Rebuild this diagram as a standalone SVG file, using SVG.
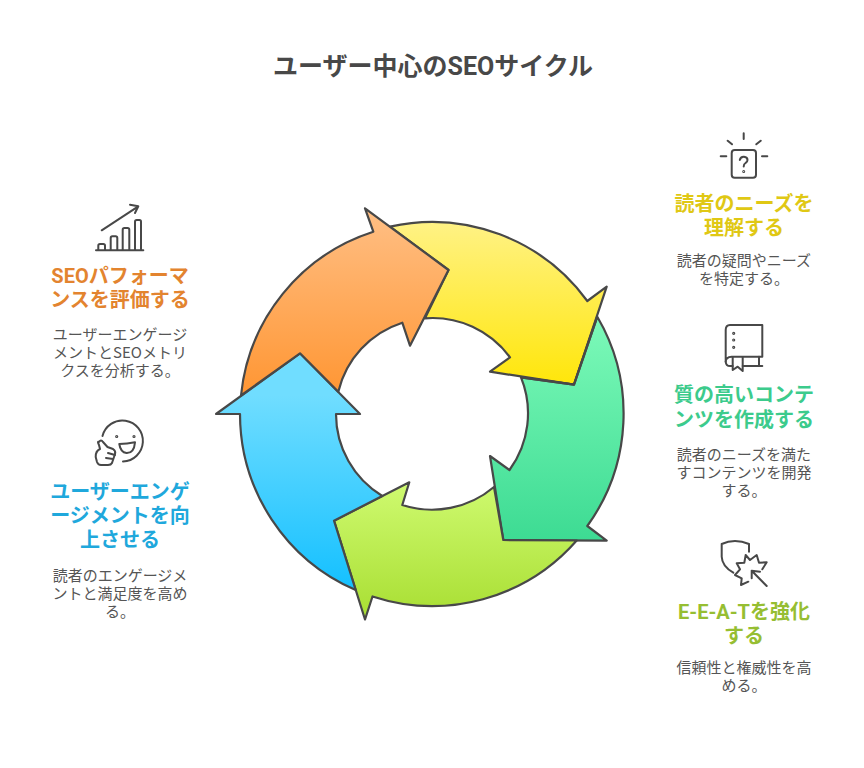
<svg xmlns="http://www.w3.org/2000/svg" width="864" height="768" viewBox="0 0 864 768">
<style>
text{font-family:"Roboto","Noto Sans CJK JP",sans-serif;text-anchor:middle}
.t{font-size:25px;font-weight:700;fill:#484848}
.h{font-size:20px;font-weight:700}
.d{font-size:15px;fill:#555;font-family:"Noto Sans CJK JP",sans-serif}
.a{stroke:#484848;stroke-width:2.2;stroke-linejoin:round}
.i{fill:none;stroke:#484848;stroke-width:2;stroke-linecap:round;stroke-linejoin:round}
</style>
<defs>
<linearGradient id="go" x1="0" y1="0" x2="0" y2="1"><stop offset="0" stop-color="#FFBF85"/><stop offset="1" stop-color="#FF9633"/></linearGradient>
<linearGradient id="gy" x1="0" y1="0" x2="0" y2="1"><stop offset="0" stop-color="#FFF285"/><stop offset="1" stop-color="#FFE60A"/></linearGradient>
<linearGradient id="gt" x1="0" y1="0" x2="0" y2="1"><stop offset="0" stop-color="#7DFAB9"/><stop offset="1" stop-color="#3DDB93"/></linearGradient>
<linearGradient id="gl" x1="0" y1="0" x2="0" y2="1"><stop offset="0" stop-color="#CFFA70"/><stop offset="1" stop-color="#A8DE32"/></linearGradient>
<linearGradient id="gb" gradientUnits="userSpaceOnUse" x1="0" y1="395" x2="0" y2="590"><stop offset="0" stop-color="#70DDFF"/><stop offset="1" stop-color="#14C0FF"/></linearGradient>
</defs>
<rect width="864" height="768" fill="#fff"/>
<text class="t" x="433" y="75">ユーザー中心のSEOサイクル</text>
<g id="connectors">
<path class="a" fill="url(#gy)" d="M390 226.6A192 192 0 0 1 587.3 301L606.7 286.7L574 384.7L490 371.7L510 357.3A96 96 0 0 0 425 318.3L448.5 270Z"/>
<path class="a" fill="url(#gt)" d="M597.3 316.7A192 192 0 0 1 587.3 526L606.7 540.7L503.3 540L490 456L509.5 470A96 96 0 0 0 521 377.3L574 384.7Z"/>
<path class="a" fill="url(#gl)" d="M576.7 540.5A192 192 0 0 1 372.5 596.5L365 619.5L334 520.7L409.3 482.3L402.3 505A96 96 0 0 0 494 487L503.3 540Z"/>
<path class="a" fill="url(#gb)" d="M355.7 590A192 192 0 0 1 240 414H216L300 353.3L360 414H336A96 96 0 0 0 382.3 496L334 520.7Z"/>
<path class="a" fill="url(#go)" d="M241 395.5A192 192 0 0 1 373.3 231.7L365 208.3L448.5 270L410 345.7L402.3 322.7A96 96 0 0 0 338.3 391.7L300 353.3Z"/>
<path class="a" fill="none" d="M597.3 316.7L574 384.7L521 377.3"/>
</g>
<g id="node-orange">
<g class="i"><path d="M101.7 230.3L138.3 206.3M130 204.7L138.3 206.3L135 213"/><path d="M96 250.3H143.3"/><path d="M98.3 250V245.5Q98.3 244 100 244H103.3Q105 244 105 245.5V250"/><path d="M110.7 250V238Q110.7 236.3 112.4 236.3H115.6Q117.3 236.3 117.3 238V250"/><path d="M122.7 250V229.7Q122.7 228 124.4 228H127.6Q129.3 228 129.3 229.7V250"/><path d="M135 250V221.7Q135 220 136.7 220H139.5Q141 220 141 221.7V250"/></g>
<text class="h" fill="#E3842F"><tspan x="120" y="283">SEOパフォーマ</tspan><tspan x="120" y="307">ンスを評価する</tspan></text>
<text class="d"><tspan x="120" y="340">ユーザーエンゲージ</tspan><tspan x="120" y="358">メントとSEOメトリ</tspan><tspan x="120" y="376">クスを分析する。</tspan></text>
</g>
<g id="node-blue">
<g class="i"><path d="M102.5 436A20.5 20.5 0 1 1 123 461.5"/><circle cx="116.7" cy="436.5" r=".6"/><circle cx="134" cy="436.5" r=".6"/><path d="M119.3 444Q127 443.8 135 442.3Q134 453.3 126.5 453Q120.5 452.3 119.3 444Z"/><path d="M99 445Q97 441 99 442Q101 439 103 442L107.5 447L113 449Q116 451 115 454L112 463Q111 465 108 465H101Q98 465 97 462L95.7 457Q95.5 451 100 449Z"/><path d="M108 453L115 455M106 458L113 459"/></g>
<text class="h" fill="#1FA8DC"><tspan x="120" y="499">ユーザーエンゲ</tspan><tspan x="120" y="523">ージメントを向</tspan><tspan x="120" y="547">上させる</tspan></text>
<text class="d"><tspan x="120" y="581">読者のエンゲージメ</tspan><tspan x="120" y="599">ントと満足度を高め</tspan><tspan x="120" y="617">る。</tspan></text>
</g>
<g id="node-yellow">
<g class="i"><rect x="731.7" y="150" width="24.3" height="27.7" rx="3"/><path d="M743.7 133.3V139M727.7 140.7L732 144.3M760.7 140.7L756.3 144.3M720.7 156.3H726.3M762 156.3H767.3"/><path d="M739.8 160Q740.5 156.5 744 156.7Q747.5 157 747.5 160Q747.5 162 745.5 163Q743.7 164 743.7 166.5"/><circle cx="743.7" cy="171.5" r=".5"/></g>
<text class="h" fill="#E0C814"><tspan x="744" y="211">読者のニーズを</tspan><tspan x="744" y="235">理解する</tspan></text>
<text class="d"><tspan x="744" y="266">読者の疑問やニーズ</tspan><tspan x="744" y="284">を特定する。</tspan></text>
</g>
<g id="node-green">
<g class="i"><path d="M730 325H762.3V356.7H731.7Q725.7 357 725.7 361.7M725.7 361.7V330Q725.7 325 730 325"/><path d="M725.7 361.7Q726 366 730 366H732.7M742.7 366H762.3M759 356.7V366"/><path d="M732.7 357V370L737.7 366.7L742.7 371V357"/><circle cx="733.7" cy="333.3" r=".6"/><circle cx="733.7" cy="340" r=".6"/><circle cx="733.7" cy="347.3" r=".6"/></g>
<text class="h" fill="#3CCB8C"><tspan x="744" y="402">質の高いコンテ</tspan><tspan x="744" y="427">ンツを作成する</tspan></text>
<text class="d"><tspan x="744" y="460">読者のニーズを満た</tspan><tspan x="744" y="478">すコンテンツを開発</tspan><tspan x="744" y="496">する。</tspan></text>
</g>
<g id="node-lime">
<g class="i"><path d="M749 551.7V544Q742 541 735 541Q728 541 721.7 544V556.7Q722 566 733.3 572.7"/><path d="M745.7 555L750 560L756.7 555L759 562.7L766.7 562.3L762.3 569.3M745.7 555L744.3 562.7L736.7 563.3L740 569.3L735 575L741.7 578.3L741 585L748.3 581.7"/><path d="M766.7 586L751.7 570.7M751.7 570.7L760 571.7M751.7 570.7V578.3"/></g>
<text class="h" fill="#96BE32"><tspan x="744" y="619">E-E-A-Tを強化</tspan><tspan x="744" y="643">する</tspan></text>
<text class="d"><tspan x="744" y="673">信頼性と権威性を高</tspan><tspan x="744" y="691">める。</tspan></text>
</g>
</svg>
